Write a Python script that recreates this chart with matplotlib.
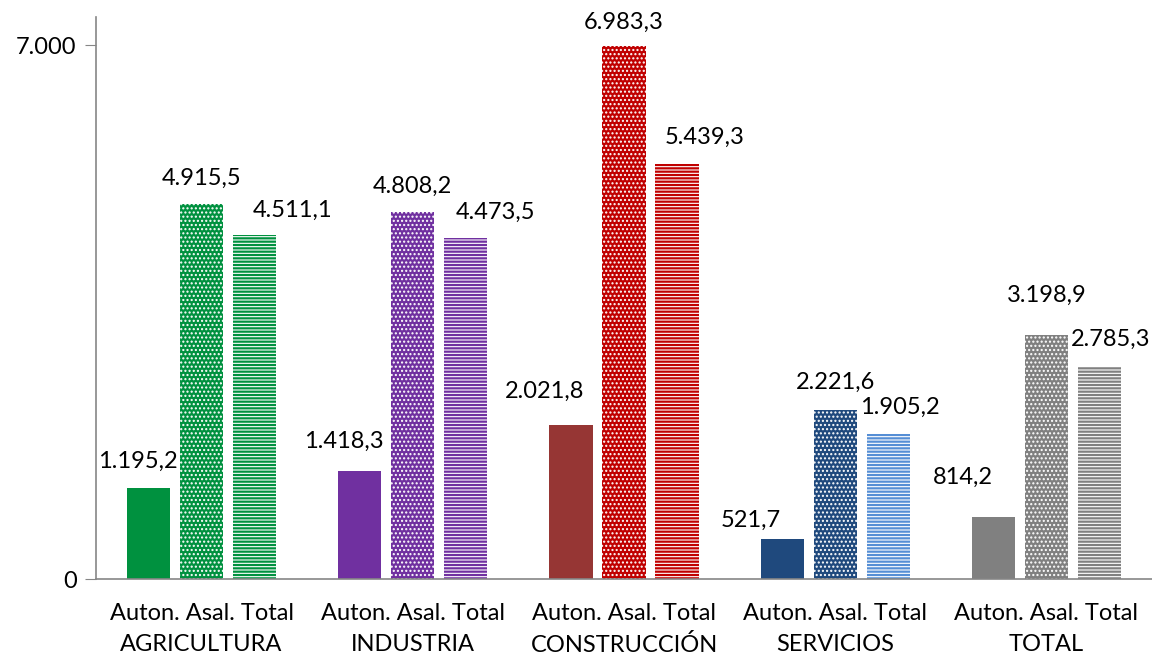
import numpy as np
import matplotlib.pyplot as plt

plt.rcParams['font.family'] = ['Lato', 'DejaVu Sans']

sectors = ['AGRICULTURA', 'INDUSTRIA', 'CONSTRUCCIÓN', 'SERVICIOS', 'TOTAL']
kinds = ['Auton.', 'Asal.', 'Total']
auton = [1195.2, 1418.3, 2021.8, 521.7, 814.2]
asal = [4915.5, 4808.2, 6983.3, 2221.6, 3198.9]
total = [4511.1, 4473.5, 5439.3, 1905.2, 2785.3]

# colours per sector: (auton, asal, total)
colors = [('#00913F', '#00913F', '#00913F'),
          ('#7030A0', '#7030A0', '#7030A0'),
          ('#963634', '#C00000', '#C00000'),
          ('#1F497D', '#1F497D', '#558ED5'),
          ('#808080', '#808080', '#808080')]

# label offsets in pixels (dx, dy above bar top)
offs = [[(-11, 26), (0, 26), (38, 25)],
        [(-16, 29), (0, 26), (30, 25)],
        [(-26, 33), (0, 24), (28, 27)],
        [(-31, 19), (0, 27), (12, 26)],
        [(-31, 40), (0, 40), (11, 27)]]

def fmt(v):
    s = f'{v:,.1f}'
    return s.replace(',', 'X').replace('.', ',').replace('X', '.')

fig = plt.figure(figsize=(11.52, 6.57), dpi=100)
ax = fig.add_axes([96 / 1152, 1 - 579 / 657, 1 - 96 / 1152, (579 - 17) / 657])

x = np.arange(len(sectors))
w = 0.204
step = 0.251
fs = 17
data = [auton, asal, total]
for i in range(len(sectors)):
    for k in range(3):
        xp = x[i] + (k - 1) * step
        v = data[k][i]
        c = colors[i][k]
        if k == 0:
            ax.bar(xp, v, w, color=c, linewidth=0)
        elif k == 1:
            with plt.rc_context({'hatch.linewidth': 1.0}):
                ax.bar(xp, v, w, facecolor=c, edgecolor='white', hatch='....', linewidth=0)
        else:
            with plt.rc_context({'hatch.linewidth': 1.6}):
                ax.bar(xp, v, w, facecolor='white', edgecolor=c, hatch='-----', linewidth=0)
        dx, dy = offs[i][k]
        ax.annotate(fmt(v), (xp, v), xytext=(dx, dy), textcoords='offset pixels',
                    ha='center', va='center', fontsize=fs, color='black')
    ax.text(x[i], -0.061, ' '.join(kinds), transform=ax.get_xaxis_transform(),
            ha='center', va='center', fontsize=fs)
    ax.text(x[i], -0.117, sectors[i], transform=ax.get_xaxis_transform(),
            ha='center', va='center', fontsize=fs)

ax.set_xlim(-0.5, len(sectors) - 0.5)
ax.set_ylim(0, 7000 * 562 / 534)
ax.set_xticks([])
ax.set_yticks([0, 7000])
ax.set_yticklabels(['0', '7.000'], fontsize=fs)
ax.tick_params(axis='y', length=8, color='#868686', pad=6)
for s in ['top', 'right']:
    ax.spines[s].set_visible(False)
for s in ['left', 'bottom']:
    ax.spines[s].set_color('#868686')
    ax.spines[s].set_linewidth(1.2)

fig.savefig('out.png', dpi=100)
